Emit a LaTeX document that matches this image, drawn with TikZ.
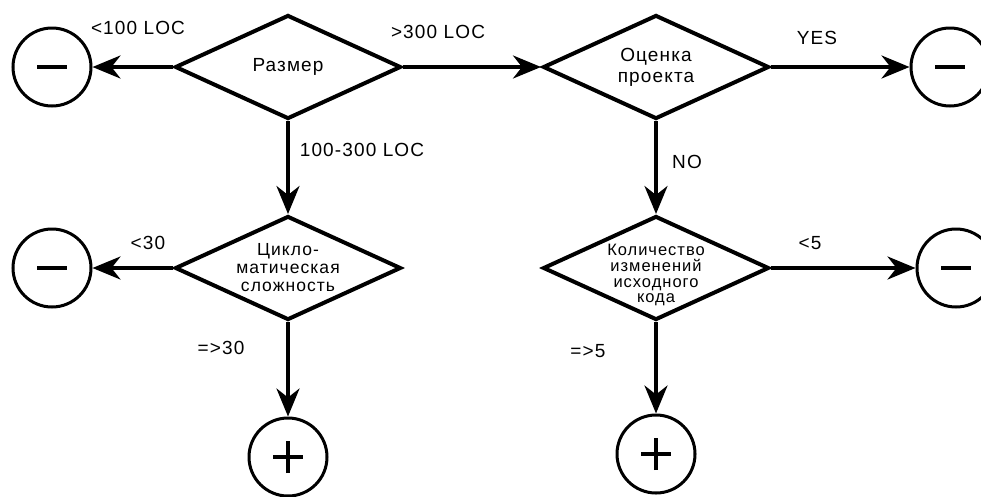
\documentclass[tikz,border=0pt]{standalone}
\usepackage{fontspec}
\setmainfont{Liberation Sans}[LetterSpace=6]
\usetikzlibrary{shapes.geometric,arrows.meta}
\begin{document}
\begin{tikzpicture}[x=1pt,y=-1pt,
 dia/.style={draw, line width=4pt, shape=diamond, aspect=2.15, minimum width=226pt, minimum height=104pt, inner sep=0pt, align=center},
 term/.style={draw, circle, line width=3pt, minimum size=78pt, inner sep=0pt},
 arr/.style={line width=3.6pt, -{Stealth[length=28pt,width=23pt,inset=9pt]}},
 lab/.style={font=\fontsize{19}{22}\selectfont, inner sep=0pt},
 sgn/.style={line width=3.2pt}]
\useasboundingbox (0,0) rectangle (981,496);

\node[dia, font=\fontsize{19}{22}\selectfont] (d1) at (288,67) {Размер};
\node[dia, font=\fontsize{19}{21}\selectfont] (d2) at (656,67) {Оценка\\проекта};
\node[dia, font=\fontsize{17.5}{18}\selectfont] (d3) at (288,268) {Цикло-\\матическая\\сложность};
\node[dia, font=\fontsize{16.5}{15.5}\selectfont] (d4) at (656,268)
  {\raisebox{-12pt}[0pt][0pt]{\begin{tabular}{@{}c@{}}Количество\\изменений\\исходного\\кода\end{tabular}}};

\node[term] (m1) at (52,67) {};
\node[term] (m2) at (950,67) {};
\node[term] (m3) at (52,268) {};
\node[term] (m4) at (956,268) {};
\node[term] (p1) at (288,457) {};
\node[term] (p2) at (656,454) {};

\foreach \n in {m1,m2,m3,m4,p1,p2}
  \draw[sgn] ([xshift=-15pt]\n.center) -- ([xshift=15pt]\n.center);
\foreach \n in {p1,p2}
  \draw[sgn] ([yshift=-16pt]\n.center) -- ([yshift=16pt]\n.center);

\draw[arr] (d1.west) -- (m1.east);
\draw[arr] (d1.east) -- (d2.west);
\draw[arr] (d1.south) -- (d3.north);
\draw[arr] (d2.east) -- (m2.west);
\draw[arr] (d2.south) -- (d4.north);
\draw[arr] (d3.west) -- (m3.east);
\draw[arr] (d3.south) -- (p1.north);
\draw[arr] (d4.east) -- (m4.west);
\draw[arr] (d4.south) -- (p2.north);

\node[lab] (l1) at (138,28) {<100 LOC};
\node[lab] (l2) at (438,32) {>300 LOC};
\node[lab] (l3) at (817,38) {YES};
\node[lab] (l4) at (362,150) {100-300 LOC};
\node[lab] (l5) at (687,162) {NO};
\node[lab] (l6) at (148,243) {<30};
\node[lab] (l7) at (221,348) {=>30};
\node[lab] (l8) at (810,243) {<5};
\node[lab] (l9) at (588,351) {=>5};
\end{tikzpicture}
\end{document}
